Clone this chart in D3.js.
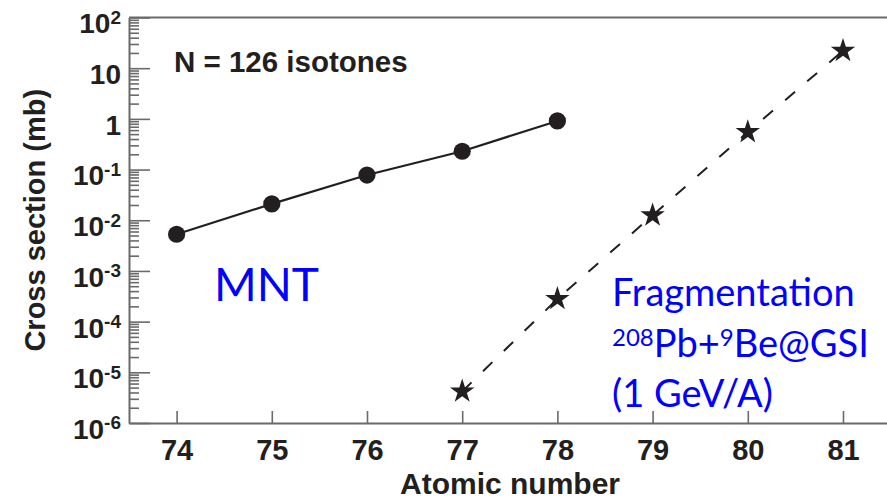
<!DOCTYPE html>
<html>
<head>
<meta charset="utf-8">
<script src="https://cdn.jsdelivr.net/npm/d3@7"></script>
<style>
  html, body { margin: 0; padding: 0; background: #fff; }
  svg { display: block; }
</style>
</head>
<body>
<svg id="chart" width="887" height="500"></svg>
<script>
// N = 126 isotones: production cross sections (mb) versus atomic number
const mntZ = [74, 75, 76, 77, 78];
const mntSigma = [0.0053, 0.021, 0.078, 0.23, 0.91];

const fragZ = [77, 78, 79, 80, 81];
const fragSigma = [4.2e-6, 2.8e-4, 0.0125, 0.55, 22];

const xTickValues = [74, 75, 76, 77, 78, 79, 80, 81];
const yTickExponents = [2, 1, 0, -1, -2, -3, -4, -5, -6];

const ink = "#231f20";
const axisGray = "#6a6a6a";
const blue = "#0000ff";
const labelFont = "'Liberation Sans', Arial, Helvetica, sans-serif";
const noteFont = "Lato, 'Open Sans', sans-serif";

const svg = d3.select("#chart");

const x = d3.scaleLinear().domain([73.5, 81.5]).range([129, 890.6]);
const y = d3.scaleLog().domain([1e-6, 1e2]).range([423, 17.5]);

// top frame line
svg.append("line")
  .attr("x1", 129).attr("x2", 887)
  .attr("y1", y(1e2)).attr("y2", y(1e2))
  .attr("stroke", axisGray).attr("stroke-width", 2);

// x axis (ticks pointing inward)
const xAxis = d3.axisBottom(x)
  .tickValues(xTickValues)
  .tickFormat(d3.format("d"))
  .tickSizeInner(-12)
  .tickSizeOuter(0)
  .tickPadding(16);

const gx = svg.append("g")
  .attr("transform", `translate(0,${y(1e-6)})`)
  .call(xAxis);
gx.select(".domain").attr("stroke", axisGray).attr("stroke-width", 2);
gx.selectAll(".tick line").attr("stroke", axisGray).attr("stroke-width", 1.6);
gx.selectAll(".tick text")
  .attr("fill", ink)
  .style("font-family", labelFont)
  .style("font-weight", "bold")
  .style("font-size", "29px");

// y axis: minor ticks (2..9 within each decade)
const minorValues = [];
for (let e = -6; e < 2; e++) {
  for (let m = 2; m <= 9; m++) minorValues.push(m * Math.pow(10, e));
}
const gyMinor = svg.append("g")
  .attr("transform", `translate(129,0)`)
  .call(d3.axisLeft(y).tickValues(minorValues).tickFormat(() => "")
    .tickSizeInner(-10).tickSizeOuter(0));
gyMinor.select(".domain").remove();
gyMinor.selectAll(".tick line").attr("stroke", axisGray).attr("stroke-width", 1.6);

// y axis: decades with power-of-ten labels
const majorValues = yTickExponents.map(e => Math.pow(10, e));
const gy = svg.append("g")
  .attr("transform", `translate(129,0)`)
  .call(d3.axisLeft(y).tickValues(majorValues).tickFormat(() => "")
    .tickSizeInner(-21).tickSizeOuter(0).tickPadding(8));
gy.select(".domain").attr("stroke", axisGray).attr("stroke-width", 2);
gy.selectAll(".tick line").attr("stroke", axisGray).attr("stroke-width", 1.6);
gy.selectAll(".tick text")
  .attr("fill", ink)
  .attr("dy", "0.55em")
  .style("font-family", labelFont)
  .style("font-weight", "bold")
  .style("font-size", "28px")
  .each(function (d) {
    const e = Math.round(Math.log10(d));
    const t = d3.select(this);
    if (e === 0) { t.append("tspan").text("1"); return; }
    if (e === 1) { t.append("tspan").text("10"); return; }
    t.append("tspan").text("10");
    t.append("tspan")
      .attr("dy", "-0.5em")
      .style("font-size", "19px")
      .text(String(e));
  });

// axis titles
svg.append("text")
  .attr("x", 510).attr("y", 494)
  .attr("text-anchor", "middle")
  .attr("fill", ink)
  .style("font-family", labelFont)
  .style("font-weight", "bold")
  .style("font-size", "30px")
  .text("Atomic number");

svg.append("text")
  .attr("transform", `translate(45,${(y(1e2) + y(1e-6)) / 2}) rotate(-90)`)
  .attr("text-anchor", "middle")
  .attr("fill", ink)
  .style("font-family", labelFont)
  .style("font-weight", "bold")
  .style("font-size", "29px")
  .text("Cross section (mb)");

// N = 126 caption
svg.append("text")
  .attr("x", 174).attr("y", 71.7)
  .attr("fill", ink)
  .style("font-family", labelFont)
  .style("font-weight", "bold")
  .style("font-size", "29.5px")
  .text("N = 126 isotones");

// MNT series: solid line with filled circles
const mntData = mntZ.map((z, i) => ({ z, s: mntSigma[i] }));
const line = d3.line().x(d => x(d.z)).y(d => y(d.s));

svg.append("path")
  .datum(mntData)
  .attr("d", line)
  .attr("fill", "none")
  .attr("stroke", ink)
  .attr("stroke-width", 2.2);

svg.append("g").selectAll("circle")
  .data(mntData)
  .join("circle")
  .attr("cx", d => x(d.z))
  .attr("cy", d => y(d.s))
  .attr("r", 8.6)
  .attr("fill", ink);

// Fragmentation series: dashed line with stars
const fragData = fragZ.map((z, i) => ({ z, s: fragSigma[i] }));

svg.append("path")
  .datum(fragData)
  .attr("d", line)
  .attr("fill", "none")
  .attr("stroke", ink)
  .attr("stroke-width", 2)
  .attr("stroke-dasharray", "13,16");

const star = d3.symbol().type(d3.symbolStar).size(185);
svg.append("g").selectAll("path")
  .data(fragData)
  .join("path")
  .attr("transform", d => `translate(${x(d.z)},${y(d.s)})`)
  .attr("d", star)
  .attr("fill", ink);

// reaction labels
svg.append("text")
  .attr("x", 214).attr("y", 301)
  .attr("fill", blue)
  .style("font-family", noteFont)
  .style("font-size", "46px")
  .text("MNT");

const frag = svg.append("g")
  .attr("fill", blue)
  .style("font-family", noteFont)
  .style("font-size", "38px");

frag.append("text").attr("x", 612).attr("y", 305.7).text("Fragmentation");

const l2 = frag.append("text").attr("x", 612).attr("y", 356.7);
l2.append("tspan").attr("dy", "-11").style("font-size", "24px").text("208");
l2.append("tspan").attr("dy", "11").text("Pb+");
l2.append("tspan").attr("dy", "-11").style("font-size", "24px").text("9");
l2.append("tspan").attr("dy", "11").text("Be@GSI");

frag.append("text").attr("x", 612).attr("y", 406.7).text("(1 GeV/A)");
</script>
</body>
</html>
